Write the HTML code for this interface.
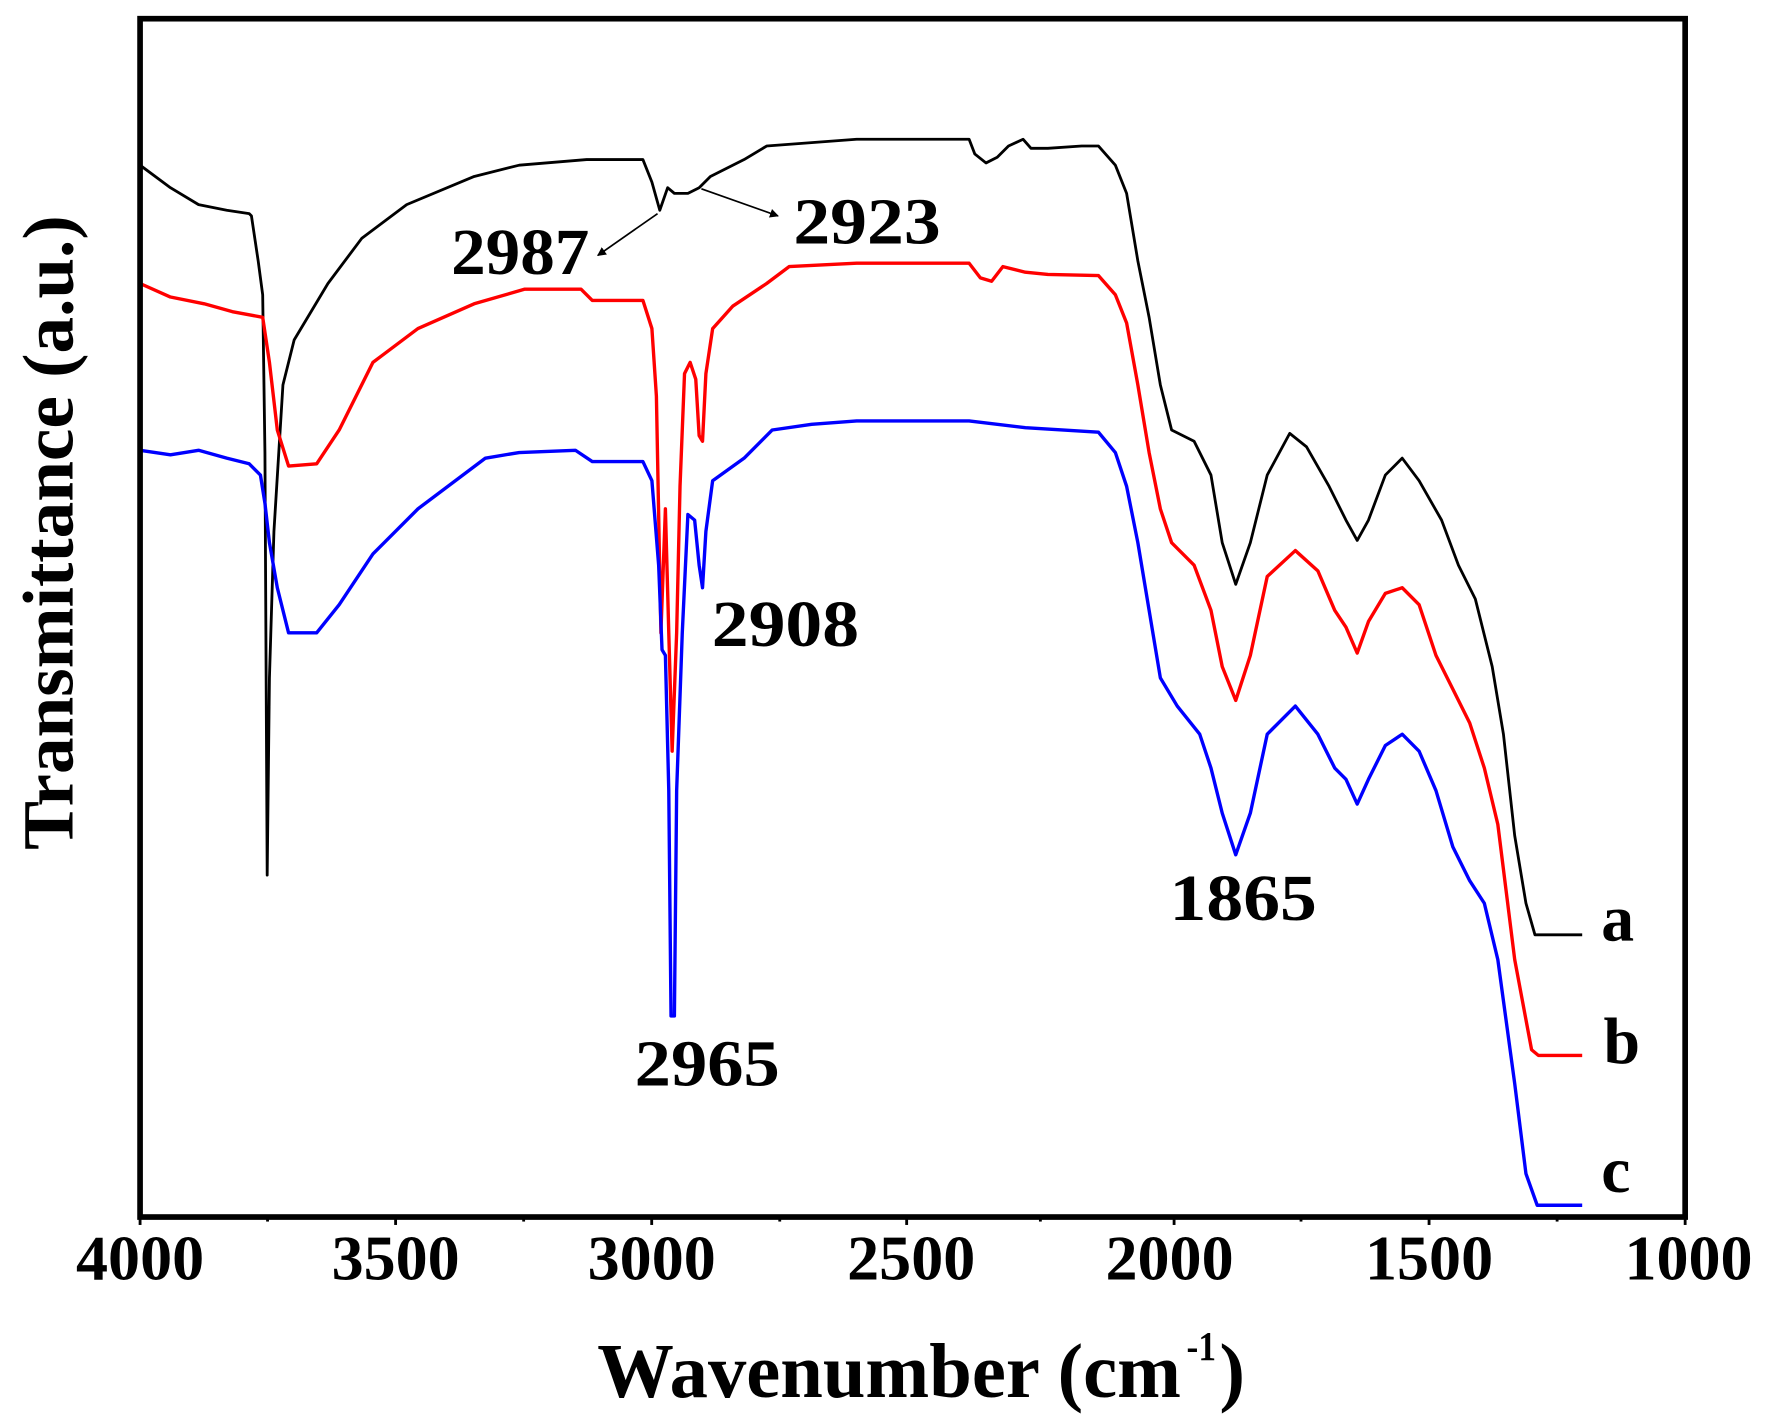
<!DOCTYPE html>
<html><head><meta charset="utf-8"><style>html,body{margin:0;padding:0;background:#fff}svg{display:block}</style></head>
<body>
<svg width="1768" height="1421" viewBox="0 0 1560 1254" xmlns="http://www.w3.org/2000/svg" font-family="'Liberation Serif',serif" font-weight="bold">
<defs><marker id="ah" markerWidth="8" markerHeight="8" refX="7" refY="4" orient="auto" markerUnits="userSpaceOnUse"><path d="M0,0 L8,4 L0,8 z" fill="#000"/></marker></defs>
<g transform="translate(123.5,16.5) scale(0.9927,0.9944) translate(-123,-15)">
<g fill="none" stroke-linejoin="round">
<polyline stroke="#000" stroke-width="2.5" points="123,145 150,165 175,180 200,185 220,188 222,190 228,230 232,260 234,400 236,775 238,600 242,470 250,340 260,300 290,250 320,210 360,180 420,155 460,145 520,140 570,140 578,160 585,185 592,165 598,170 610,170 620,165 630,155 660,140 680,128 720,125 760,122 860,122 865,135 875,143 885,138 895,128 908,122 915,130 930,130 960,128 975,128 990,145 1000,170 1010,230 1020,280 1030,340 1040,380 1060,390 1075,420 1085,480 1097,517 1110,480 1125,420 1145,383 1160,395 1180,430 1195,460 1205,478 1215,460 1230,420 1245,405 1260,425 1280,460 1295,500 1310,530 1325,590 1335,650 1345,740 1355,800 1363,828 1405,828"/>
<polyline stroke="#f00" stroke-width="3" points="123,250 150,262 180,268 205,275 232,280 238,320 245,380 255,412 280,410 300,380 330,320 370,290 420,268 465,255 515,255 525,265 570,265 578,290 582,350 586,560 590,450 593,560 596,665 600,560 603,430 607,330 612,320 617,335 620,385 623,390 626,330 632,290 650,270 680,250 700,235 760,232 860,232 870,245 880,248 890,235 910,240 930,242 975,243 990,260 1000,285 1010,340 1020,400 1030,450 1040,480 1060,500 1075,540 1085,590 1097,620 1110,580 1125,510 1150,487 1170,505 1185,540 1195,555 1205,578 1215,550 1230,525 1245,520 1260,535 1275,580 1290,610 1305,640 1318,680 1330,730 1345,850 1360,930 1366,935 1405,935"/>
<polyline stroke="#00f" stroke-width="3" points="123,398 150,402 175,398 200,405 220,410 230,420 234,445 238,480 245,520 255,560 280,560 300,535 330,490 370,450 430,405 460,400 510,398 525,408 570,408 578,425 584,500 587,575 590,580 593,700 595,900 598,900 600,700 605,560 610,455 616,460 620,500 623,520 626,470 632,425 660,405 685,380 720,375 760,372 860,372 910,378 975,382 990,400 1000,430 1010,480 1020,540 1030,600 1045,625 1065,650 1075,680 1085,720 1097,757 1110,720 1125,650 1150,625 1170,650 1185,680 1195,690 1205,712 1215,690 1230,660 1245,650 1260,665 1275,700 1290,750 1305,780 1318,800 1330,850 1345,960 1355,1040 1365,1068 1405,1068"/>
</g>
<g stroke="#000" stroke-width="1.5" fill="none">
<line x1="583" y1="188" x2="530" y2="225" marker-end="url(#ah)"/>
<line x1="622" y1="166" x2="690" y2="190" marker-end="url(#ah)"/>
</g>
</g>
<rect x="123.5" y="16.5" width="1363.5" height="1057.5" fill="none" stroke="#000" stroke-width="5"/>
<g stroke="#000" stroke-width="2.5">
<line x1="123.5" y1="1074" x2="123.5" y2="1081"/><line x1="349" y1="1074" x2="349" y2="1081"/><line x1="575" y1="1074" x2="575" y2="1081"/><line x1="800" y1="1074" x2="800" y2="1081"/><line x1="1036" y1="1074" x2="1036" y2="1081"/><line x1="1261" y1="1074" x2="1261" y2="1081"/><line x1="1487" y1="1074" x2="1487" y2="1081"/>
<line x1="236" y1="1074" x2="236" y2="1078"/><line x1="462" y1="1074" x2="462" y2="1078"/><line x1="688" y1="1074" x2="688" y2="1078"/><line x1="918" y1="1074" x2="918" y2="1078"/><line x1="1148" y1="1074" x2="1148" y2="1078"/><line x1="1374" y1="1074" x2="1374" y2="1078"/>
</g>
<g font-size="56" text-anchor="middle" fill="#000">
<text x="123.5" y="1129" textLength="113" lengthAdjust="spacingAndGlyphs">4000</text><text x="349" y="1129" textLength="113" lengthAdjust="spacingAndGlyphs">3500</text><text x="575" y="1129" textLength="113" lengthAdjust="spacingAndGlyphs">3000</text><text x="804" y="1129" textLength="113" lengthAdjust="spacingAndGlyphs">2500</text><text x="1032" y="1129" textLength="113" lengthAdjust="spacingAndGlyphs">2000</text><text x="1261" y="1129" textLength="113" lengthAdjust="spacingAndGlyphs">1500</text><text x="1490" y="1129" textLength="113" lengthAdjust="spacingAndGlyphs">1000</text>
</g>
<text x="527" y="1233" font-size="68" textLength="515" lengthAdjust="spacingAndGlyphs">Wavenumber (cm</text>
<text x="1047" y="1200" font-size="36" textLength="26" lengthAdjust="spacingAndGlyphs">-1</text>
<text x="1076" y="1233" font-size="68">)</text>
<text transform="translate(64,470) rotate(-90)" font-size="64" text-anchor="middle" textLength="560" lengthAdjust="spacingAndGlyphs">Transmittance (a.u.)</text>
<g font-size="58" fill="#000">
<text x="398" y="242" textLength="122" lengthAdjust="spacingAndGlyphs">2987</text><text x="700" y="215" textLength="130" lengthAdjust="spacingAndGlyphs">2923</text><text x="628" y="570" textLength="130" lengthAdjust="spacingAndGlyphs">2908</text><text x="560" y="958" textLength="128" lengthAdjust="spacingAndGlyphs">2965</text><text x="1032" y="812" textLength="130" lengthAdjust="spacingAndGlyphs">1865</text>
<text x="1413" y="830">a</text><text x="1415" y="938">b</text><text x="1413" y="1052">c</text>
</g>
</svg>
</body></html>
